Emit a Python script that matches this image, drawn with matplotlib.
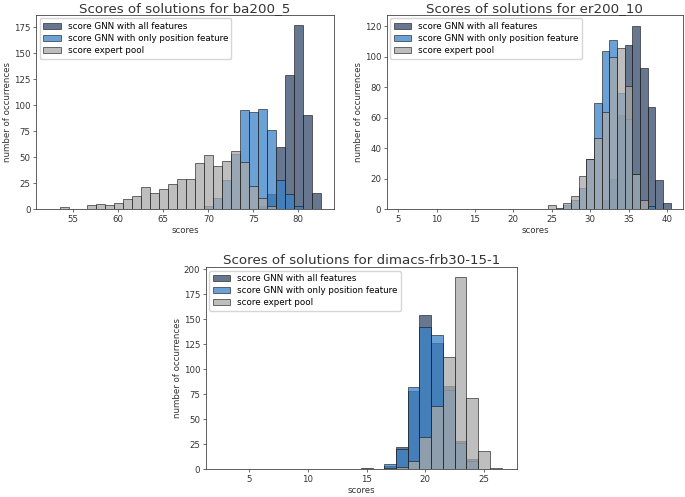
import numpy as np
import matplotlib
matplotlib.use("Agg")
import matplotlib.pyplot as plt

# bin centres (integer scores) and counts
ba_bins = list(range(54, 83))
ba_all = [0, 0, 0, 0, 0, 0, 0, 0, 0, 0, 0, 0, 0, 0, 0, 0, 0, 0, 0, 0, 0, 0, 3, 15, 60, 129, 177, 91, 16]
ba_pos = [0, 0, 0, 0, 0, 0, 0, 0, 0, 0, 0, 0, 0, 0, 0, 0, 3, 11, 28, 53, 95, 93, 96, 76, 28, 15, 3, 0, 0]
ba_exp = [2, 0, 0, 4, 5, 4, 6, 10, 13, 21, 16, 19, 24, 29, 29, 44, 52, 42, 46, 56, 45, 22, 11, 3, 0, 0, 0, 0, 0]

er_bins = list(range(25, 41))
er_all = [0, 1, 0, 0, 0, 0, 0, 6, 20, 62, 108, 120, 93, 67, 19, 4]
er_pos = [0, 0, 3, 6, 14, 33, 70, 104, 111, 76, 59, 23, 0, 2, 0, 0]
er_exp = [3, 0, 4, 9, 22, 33, 47, 64, 100, 106, 81, 23, 6, 0, 0, 0]

dm_bins = list(range(15, 27))
dm_all = [1, 0, 3, 22, 78, 154, 126, 83, 28, 10, 0, 0]
dm_pos = [0, 0, 5, 20, 82, 142, 134, 79, 26, 8, 0, 0]
dm_exp = [0, 0, 1, 2, 8, 32, 63, 112, 192, 71, 18, 1]

labels = ["score GNN with all features",
          "score GNN with only position feature",
          "score expert pool"]
colors = ["#34496a", "#3a82c8", "darkgrey"]

fig = plt.figure(figsize=(6.85, 4.97), dpi=100)
ax1 = fig.add_axes([0.0526, 0.579, 0.435, 0.391])
ax2 = fig.add_axes([0.5645, 0.579, 0.4326, 0.391])
ax3 = fig.add_axes([0.3003, 0.0557, 0.4549, 0.4064])


def draw(ax, bins, series, title, xlim, ylim, xticks, yticks):
    for vals, lab, col in zip(series, labels, colors):
        ax.bar(bins, vals, width=1.0, color=col, alpha=0.75,
               edgecolor="#111111", linewidth=0.55, label=lab)
    ax.set_xlim(*xlim)
    ax.set_ylim(*ylim)
    ax.set_xticks(xticks)
    ax.set_yticks(yticks)
    ax.tick_params(labelsize=6.2, length=2.5, width=0.5, pad=1.5, colors="#333333")
    for s in ax.spines.values():
        s.set_linewidth(0.6)
        s.set_color("#444444")
    ax.set_title(title, fontsize=9.6, pad=2, color="#333333")
    ax.set_xlabel("scores", fontsize=6.2, labelpad=1.5, color="#333333")
    ax.set_ylabel("number of occurrences", fontsize=6.2, labelpad=1.5, color="#333333")
    ax.legend(loc="upper left", fontsize=6.3, framealpha=0.8, borderaxespad=0.4,
              handlelength=2.0, labelspacing=0.35)


draw(ax1, ba_bins, [ba_all, ba_pos, ba_exp], "Scores of solutions for ba200_5",
     (50.85, 83.97), (0, 186.8), range(55, 81, 5), range(0, 176, 25))
draw(ax2, er_bins, [er_all, er_pos, er_exp], "Scores of solutions for er200_10",
     (3.5, 42.1), (0, 127.6), range(5, 41, 5), range(0, 121, 20))
draw(ax3, dm_bins, [dm_all, dm_pos, dm_exp], "Scores of solutions for dimacs-frb30-15-1",
     (1.28, 27.84), (0, 202), range(5, 26, 5), range(0, 201, 25))

fig.savefig("out.png", dpi=100)
